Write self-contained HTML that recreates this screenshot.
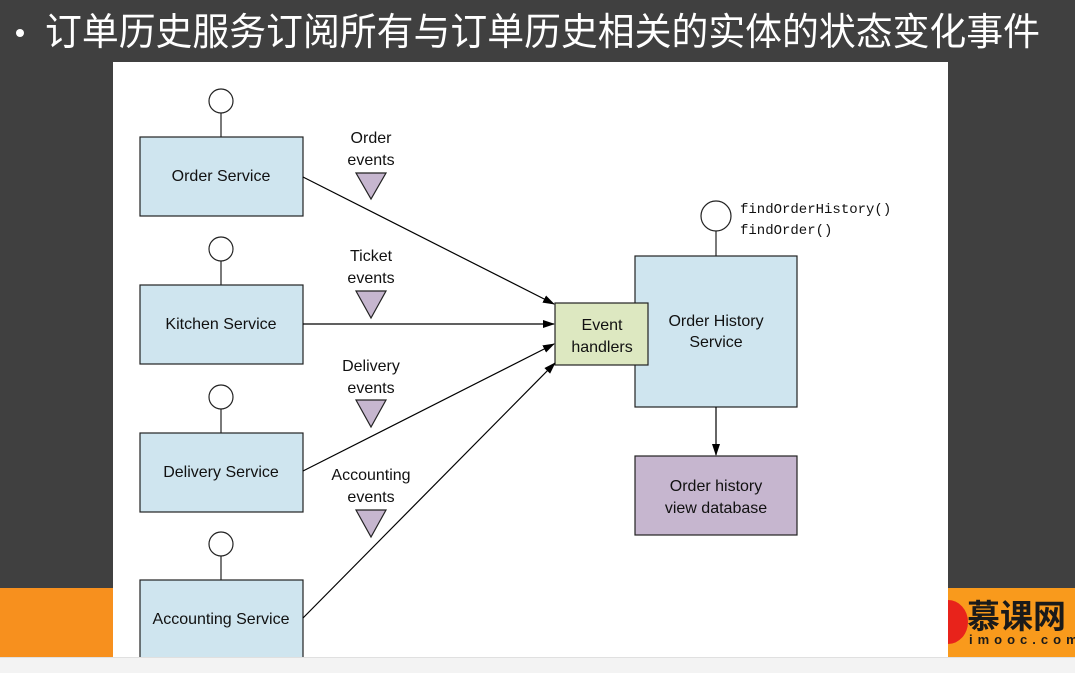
<!DOCTYPE html>
<html><head><meta charset="utf-8"><style>
html,body{margin:0;padding:0;width:1075px;height:673px;overflow:hidden;background:#404040;position:relative;font-family:"Liberation Sans","Noto Sans CJK SC",sans-serif}
.or{position:absolute;top:588px;height:69px;background:#f7901e}
.bot{position:absolute;left:0;top:657px;width:1075px;height:16px;background:#f3f3f3;border-top:1px solid #e0e0e0;z-index:5}
svg{position:absolute;left:0;top:0}
</style></head><body>
<svg width="1075" height="60" style="z-index:2"><text x="45" y="45" fill="#fff" font-size="38" font-family="Noto Sans CJK SC, sans-serif" textLength="995" lengthAdjust="spacingAndGlyphs">订单历史服务订阅所有与订单历史相关的实体的状态变化事件</text><circle cx="20" cy="33" r="4" fill="#fff"/></svg>
<div class="or" style="left:0;width:113px"></div>
<div class="or" style="left:948px;width:127px;background:#f99a1c"></div>
<div style="position:absolute;left:928px;top:600px;width:40px;height:44px;border-radius:50%;background:#e8231b"></div>
<div style="position:absolute;left:967px;top:594px;font-size:33px;color:#1a1a1a;font-family:'Noto Sans CJK SC',sans-serif;font-weight:bold;white-space:nowrap;line-height:40px">慕课网</div>
<div style="position:absolute;left:969px;top:632px;font-size:13px;color:#1a1a1a;letter-spacing:5px;white-space:nowrap;font-weight:bold">imooc.com</div>
<div style="position:absolute;left:113px;top:62px;width:835px;height:595px;background:#fff"></div>
<div class="bot"></div>
<svg width="1075" height="657" viewBox="0 0 1075 657" style="top:0">
<defs><marker id="a" markerWidth="12" markerHeight="8" refX="11" refY="4" orient="auto" markerUnits="userSpaceOnUse"><path d="M0,0 L12,4 L0,8 Z" fill="#000"/></marker></defs>
<g stroke="#222" stroke-width="1.2" fill="#cfe5ef">
<line x1="221" y1="113" x2="221" y2="137"/><circle cx="221" cy="101" r="12" fill="#fff"/><rect x="140" y="137" width="163" height="79"/>
<line x1="221" y1="261" x2="221" y2="285"/><circle cx="221" cy="249" r="12" fill="#fff"/><rect x="140" y="285" width="163" height="79"/>
<line x1="221" y1="409" x2="221" y2="433"/><circle cx="221" cy="397" r="12" fill="#fff"/><rect x="140" y="433" width="163" height="79"/>
<line x1="221" y1="556" x2="221" y2="580"/><circle cx="221" cy="544" r="12" fill="#fff"/><rect x="140" y="580" width="163" height="90"/>
<line x1="716" y1="231" x2="716" y2="256"/><circle cx="716" cy="216" r="15" fill="#fff"/>
<rect x="635" y="256" width="162" height="151"/>
<rect x="555" y="303" width="93" height="62" fill="#dde8c1"/>
<rect x="635" y="456" width="162" height="79" fill="#c6b6cf"/>
</g>
<g fill="#c6b6cf" stroke="#222" stroke-width="1.2">
<path d="M356,173 L386,173 L371,199 Z"/><path d="M356,291 L386,291 L371,318 Z"/><path d="M356,400 L386,400 L371,427 Z"/><path d="M356,510 L386,510 L371,537 Z"/>
</g>
<g stroke="#000" stroke-width="1.2" marker-end="url(#a)">
<line x1="303" y1="177" x2="554" y2="304"/>
<line x1="303" y1="324" x2="554" y2="324"/>
<line x1="303" y1="471" x2="554" y2="344"/>
<line x1="303" y1="618" x2="555" y2="363"/>
<line x1="716" y1="407" x2="716" y2="455"/>
</g>
<g font-family="Liberation Sans, sans-serif" font-size="16" fill="#111" text-anchor="middle">
<text x="221" y="181">Order Service</text>
<text x="221" y="329">Kitchen Service</text>
<text x="221" y="477">Delivery Service</text>
<text x="221" y="624">Accounting Service</text>
<text x="371" y="143">Order</text><text x="371" y="165">events</text>
<text x="371" y="261">Ticket</text><text x="371" y="283">events</text>
<text x="371" y="371">Delivery</text><text x="371" y="393">events</text>
<text x="371" y="480">Accounting</text><text x="371" y="502">events</text>
<text x="602" y="330">Event</text><text x="602" y="352">handlers</text>
<text x="716" y="326">Order History</text><text x="716" y="347">Service</text>
<text x="716" y="491">Order history</text><text x="716" y="513">view database</text>
</g>
<g font-family="Liberation Mono, monospace" font-size="14" fill="#111">
<text x="740" y="213">findOrderHistory()</text>
<text x="740" y="234">findOrder()</text>
</g>
</svg>
</body></html>
